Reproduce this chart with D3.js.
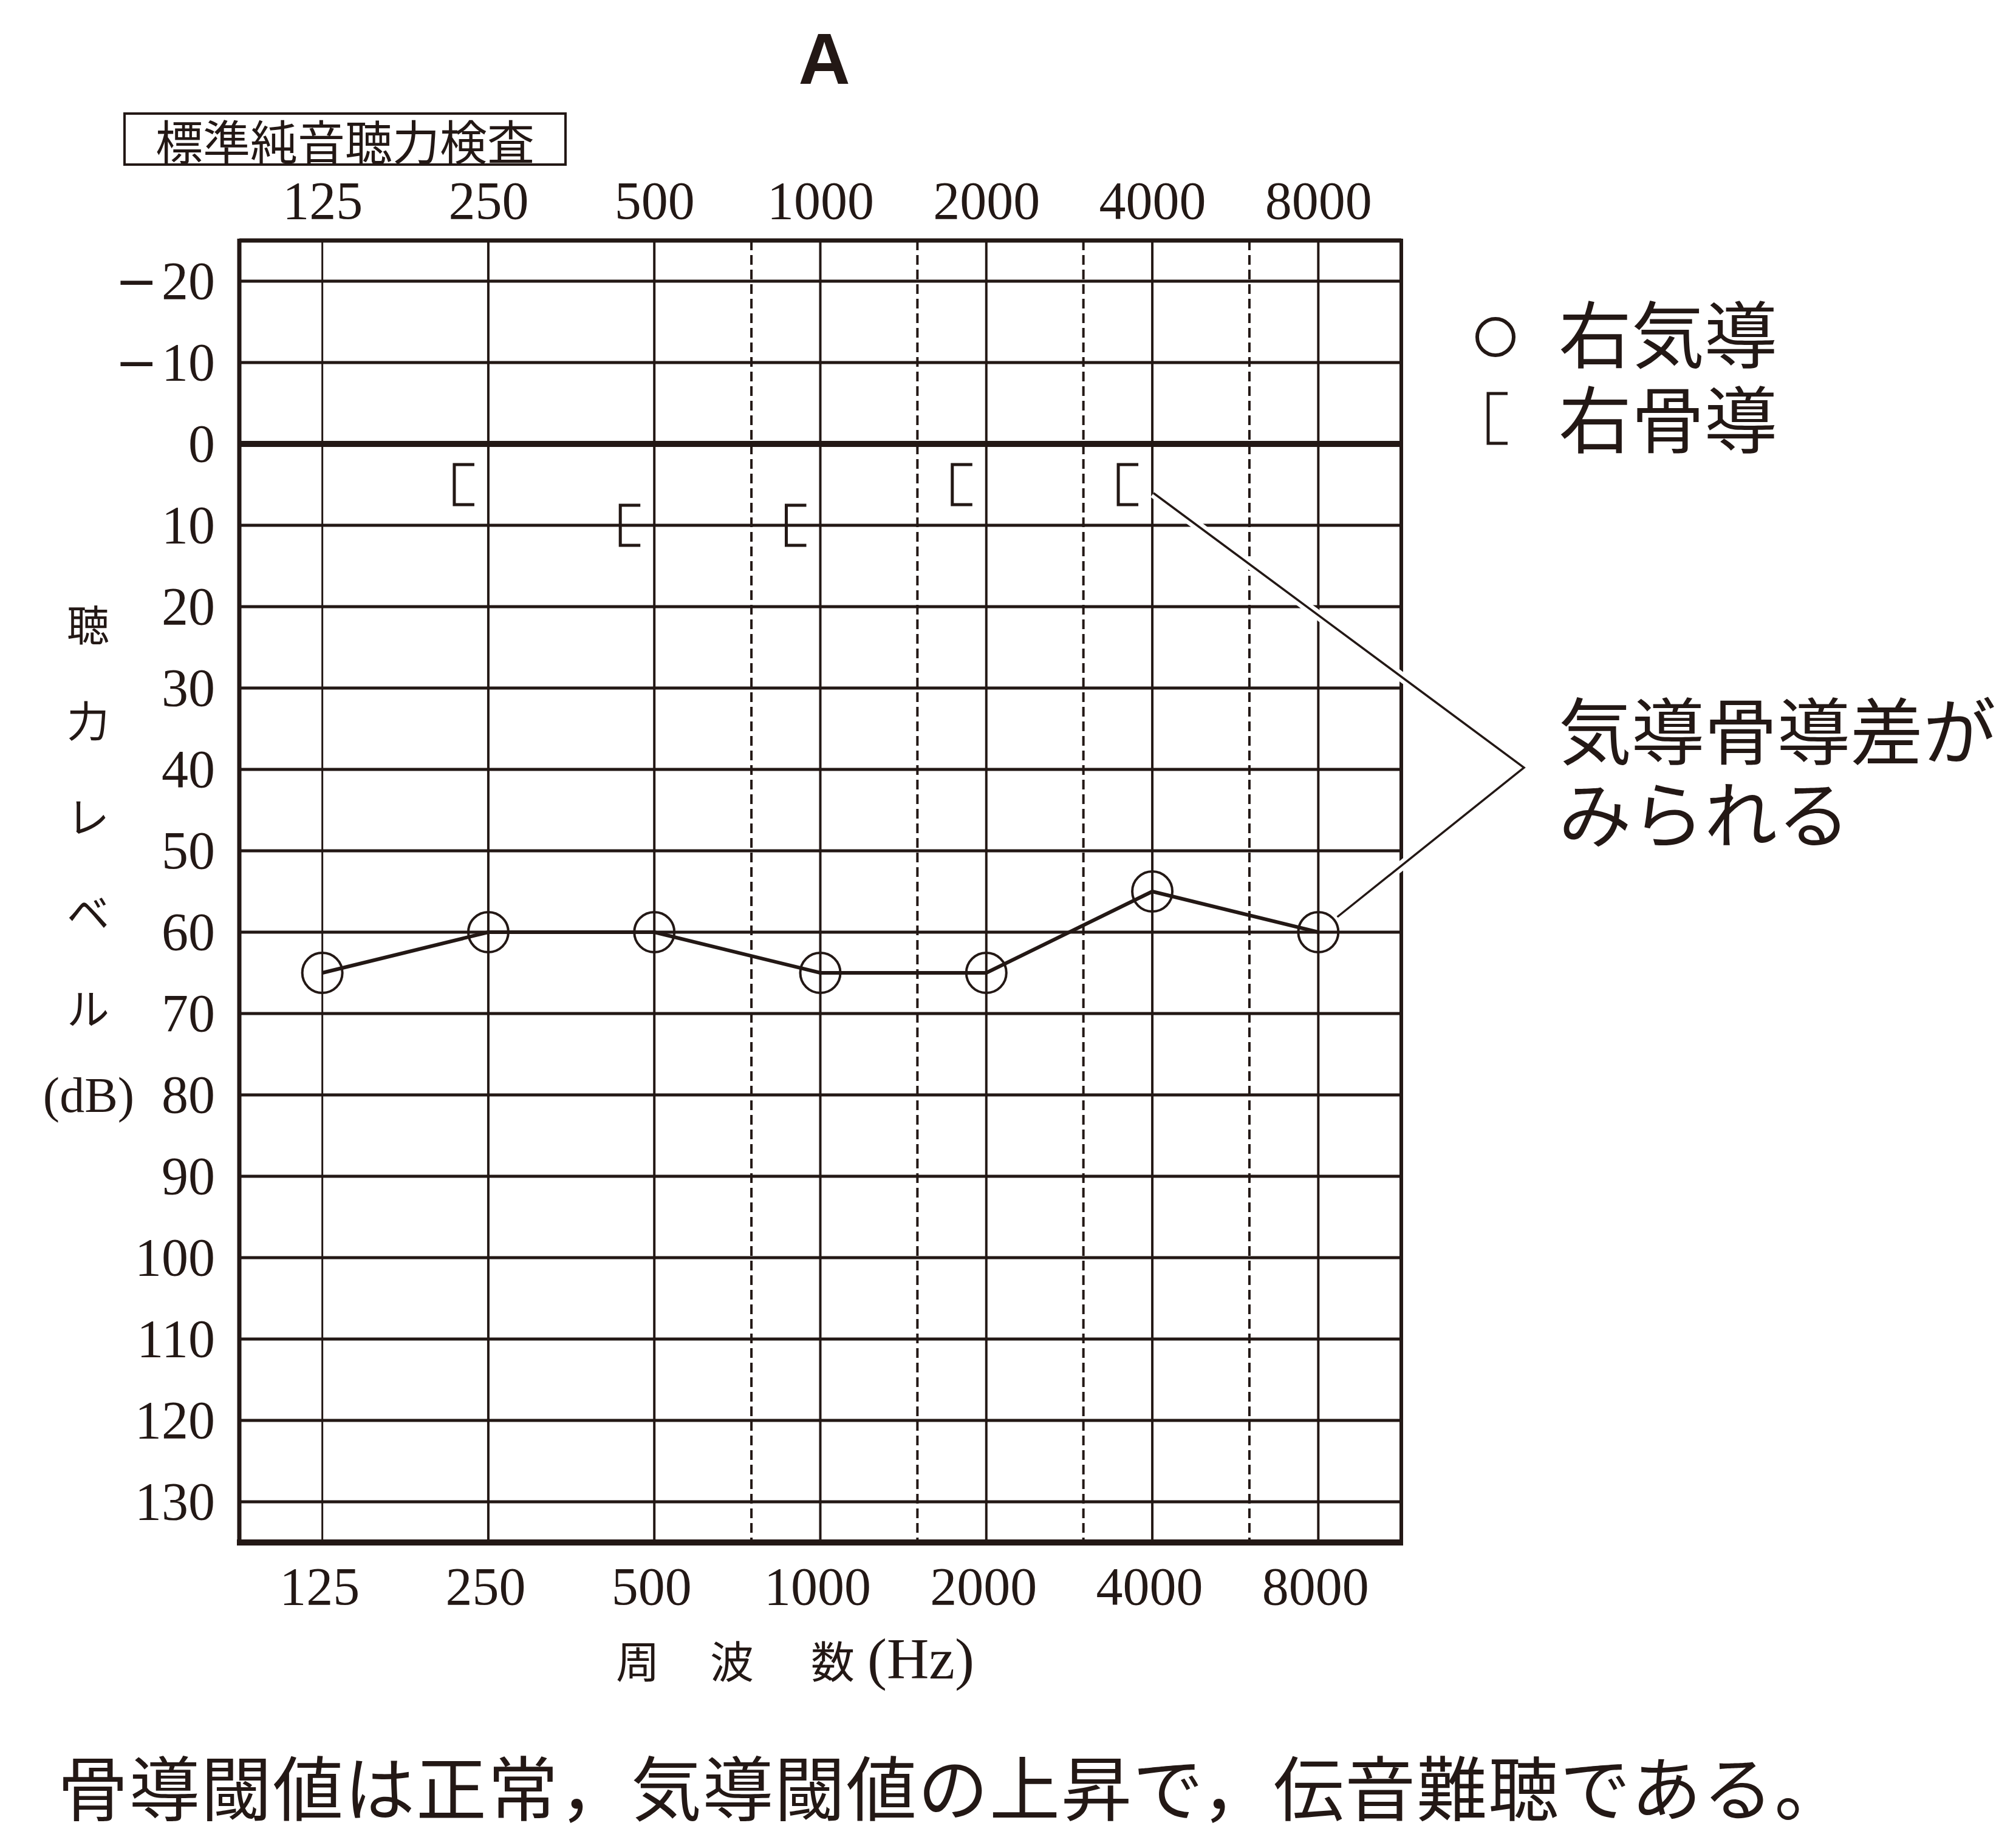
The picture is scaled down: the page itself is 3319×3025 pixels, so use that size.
<!DOCTYPE html>
<html lang="ja">
<head>
<meta charset="UTF-8"/>
<title>標準純音聴力検査 A</title>
<script src="https://cdn.jsdelivr.net/npm/d3@7"></script>
<style>
    html, body { margin: 0; background: #fff; }
    svg { display: block; }
    .num { font-family: "Liberation Serif", "DejaVu Serif", serif; }
    .jp { font-family: "Noto Sans CJK JP", "Noto Sans", sans-serif; }
</style>
</head>
<body>
<div id="container"></div>
<script>
    // audiogram data
    const freqs = [125, 250, 500, 1000, 2000, 4000, 8000]
    const midFreqs = [750, 1500, 3000, 6000]
    const dbTicks = [-20, -10, 0, 10, 20, 30, 40, 50, 60, 70, 80, 90, 100, 110, 120, 130]
    const airFreqs = [125, 250, 500, 1000, 2000, 4000, 8000]
    const airDb = [65, 60, 60, 65, 65, 55, 60]
    const boneFreqs = [250, 500, 1000, 2000, 4000]
    const boneDb = [5, 10, 10, 5, 5]
    const yTitleChars = ['聴', '力', 'レ', 'ベ', 'ル']
    const legendLabels = ['右気導', '右骨導']
    const noteLines = ['気導骨導差が', 'みられる']

    const ink = '#231815'
    const W = 3319, H = 3025
    const frame = {left: 394, right: 2307, top: 396, bottom: 2540}

    const x = d3.scaleLog().base(2)
        .domain([125 / Math.SQRT2, 8000 * Math.SQRT2])
        .range([frame.left, frame.right])
    const y = d3.scaleLinear()
        .domain([-25, 135])
        .range([frame.top, frame.bottom])

    const svg = d3.select('#container').append('svg')
        .attr('width', W).attr('height', H)
        .attr('viewBox', `0 0 ${W} ${H}`)

    svg.append('rect').attr('width', W).attr('height', H).attr('fill', '#fff')

    // title "A"
    svg.append('text')
        .attr('x', 1357).attr('y', 138)
        .attr('text-anchor', 'middle')
        .style('font-family', '"Liberation Sans", Arial, sans-serif')
        .style('font-weight', 'bold')
        .style('font-size', '118px')
        .attr('fill', ink)
        .text('A')

    // boxed heading
    svg.append('rect')
        .attr('x', 205).attr('y', 187).attr('width', 726).attr('height', 84)
        .attr('fill', 'none').attr('stroke', ink).attr('stroke-width', 4)
    svg.append('text')
        .attr('class', 'jp')
        .attr('x', 568).attr('y', 230)
        .attr('text-anchor', 'middle')
        .attr('dominant-baseline', 'central')
        .style('font-size', '78px')
        .attr('fill', ink)
        .text('標準純音聴力検査')

    const grid = svg.append('g')

    // horizontal grid lines
    grid.selectAll('line.h')
        .data(dbTicks)
        .join('line')
        .attr('class', 'h')
        .attr('x1', frame.left).attr('x2', frame.right)
        .attr('y1', d => y(d)).attr('y2', d => y(d))
        .attr('stroke', ink)
        .attr('stroke-width', d => d === 0 ? 10 : 5)

    // vertical grid lines
    grid.selectAll('line.v')
        .data(freqs)
        .join('line')
        .attr('class', 'v')
        .attr('x1', d => x(d)).attr('x2', d => x(d))
        .attr('y1', frame.top).attr('y2', frame.bottom)
        .attr('stroke', ink)
        .attr('stroke-width', d => d === 125 ? 3 : 4)

    grid.selectAll('line.mid')
        .data(midFreqs)
        .join('line')
        .attr('class', 'mid')
        .attr('x1', d => x(d)).attr('x2', d => x(d))
        .attr('y1', frame.top).attr('y2', frame.bottom)
        .attr('stroke', ink)
        .attr('stroke-width', 4)
        .attr('stroke-dasharray', '16 8')

    // frame
    grid.append('line').attr('x1', frame.left).attr('x2', frame.right)
        .attr('y1', frame.top).attr('y2', frame.top)
        .attr('stroke', ink).attr('stroke-width', 7)
    grid.append('line').attr('x1', frame.left - 4).attr('x2', frame.right + 3)
        .attr('y1', frame.bottom).attr('y2', frame.bottom)
        .attr('stroke', ink).attr('stroke-width', 10)
    grid.append('line').attr('x1', frame.left).attr('x2', frame.left)
        .attr('y1', frame.top - 3).attr('y2', frame.bottom)
        .attr('stroke', ink).attr('stroke-width', 7)
    grid.append('line').attr('x1', frame.right).attr('x2', frame.right)
        .attr('y1', frame.top - 3).attr('y2', frame.bottom)
        .attr('stroke', ink).attr('stroke-width', 6)

    // axes (labels only)
    function styleAxis(g) {
        g.select('.domain').remove()
        g.selectAll('.tick line').remove()
        g.selectAll('text')
            .attr('class', 'num')
            .style('font-size', '88px')
            .attr('fill', ink)
    }

    svg.append('g')
        .attr('transform', `translate(0,${frame.top})`)
        .call(d3.axisTop(x).tickValues(freqs).tickFormat(d3.format('d')).tickSize(0).tickPadding(36))
        .call(styleAxis)

    svg.append('g')
        .attr('transform', `translate(0,${frame.bottom})`)
        .call(d3.axisBottom(x).tickValues(freqs).tickFormat(d3.format('d')).tickSize(0).tickPadding(40))
        .call(styleAxis)
        .selectAll('text').attr('dx', -5)

    const yAxis = svg.append('g')
        .attr('transform', `translate(${frame.left},0)`)
        .call(d3.axisLeft(y).tickValues(dbTicks).tickFormat(d => Math.abs(d)).tickSize(0).tickPadding(40))
        .call(styleAxis)

    // negative labels get a long minus sign in front
    yAxis.selectAll('.tick text')
        .filter(d => d < 0)
        .each(function (d) {
            const t = d3.select(this).text('')
            t.append('tspan')
                .style('font-family', '"DejaVu Serif", serif')
                .style('font-size', '84px')
                .text('−')
            t.append('tspan').attr('dx', 6).text(Math.abs(d))
        })

    // y axis title
    svg.append('g').selectAll('text')
        .data(yTitleChars)
        .join('text')
        .attr('class', 'jp')
        .attr('x', 145)
        .attr('y', (d, i) => 1025 + i * 158)
        .attr('text-anchor', 'middle')
        .attr('dominant-baseline', 'central')
        .style('font-size', '70px')
        .attr('fill', ink)
        .text(d => d)
    svg.append('text')
        .attr('class', 'num')
        .attr('x', 146).attr('y', y(80))
        .attr('text-anchor', 'middle')
        .attr('dominant-baseline', 'central')
        .style('font-size', '82px')
        .attr('fill', ink)
        .text('(dB)')

    // x axis title
    const xTitle = svg.append('g')
    ;[['周', 1050], ['波', 1205], ['数', 1371]].forEach(([t, cx]) => {
        xTitle.append('text')
            .attr('class', 'jp')
            .attr('x', cx).attr('y', 2731)
            .attr('text-anchor', 'middle')
            .attr('dominant-baseline', 'central')
            .style('font-size', '72px')
            .attr('fill', ink)
            .text(t)
    })
    xTitle.append('text')
        .attr('class', 'num')
        .attr('x', 1428).attr('y', 2731)
        .attr('dominant-baseline', 'central')
        .style('font-size', '96px')
        .attr('fill', ink)
        .text('(Hz)')

    // air conduction line + circles
    const air = airFreqs.map((f, i) => ({f, db: airDb[i]}))
    svg.append('path')
        .datum(air)
        .attr('d', d3.line().x(d => x(d.f)).y(d => y(d.db)))
        .attr('fill', 'none')
        .attr('stroke', ink)
        .attr('stroke-width', 6)
    svg.append('g').selectAll('circle')
        .data(air)
        .join('circle')
        .attr('cx', d => x(d.f)).attr('cy', d => y(d.db))
        .attr('r', 33)
        .attr('fill', 'none')
        .attr('stroke', ink)
        .attr('stroke-width', 4)

    // bone conduction brackets
    const bracket = (cx, cy) => `M${cx - 23},${cy - 33}H${cx - 56}V${cy + 33}H${cx - 23}`
    const bone = boneFreqs.map((f, i) => ({f, db: boneDb[i]}))
    svg.append('g').selectAll('path')
        .data(bone)
        .join('path')
        .attr('d', d => bracket(x(d.f), y(d.db)))
        .attr('fill', 'none')
        .attr('stroke', ink)
        .attr('stroke-width', 5)

    // legend
    const legend = svg.append('g')
    legend.append('circle')
        .attr('cx', 2462).attr('cy', 555).attr('r', 30)
        .attr('fill', 'none').attr('stroke', ink).attr('stroke-width', 6)
    legend.append('path')
        .attr('d', 'M2482,648H2450V730H2482')
        .attr('fill', 'none').attr('stroke', ink).attr('stroke-width', 5)
    legend.selectAll('text')
        .data(legendLabels)
        .join('text')
        .attr('class', 'jp')
        .attr('x', 2566)
        .attr('y', (d, i) => 545 + i * 140)
        .attr('dominant-baseline', 'central')
        .style('font-size', '120px')
        .attr('fill', ink)
        .text(d => d)

    // annotation
    const vertex = [2509, 1264]
    const start = [x(4000) + 2, y(5) + 14]
    const c8 = [x(8000), y(60)]
    const dx = vertex[0] - c8[0], dy = vertex[1] - c8[1]
    const len = Math.hypot(dx, dy)
    const end = [c8[0] + dx / len * 40, c8[1] + dy / len * 40]
    const pts = [start, vertex, end]
    svg.append('path')
        .attr('d', d3.line()(pts))
        .attr('fill', 'none').attr('stroke', '#fff').attr('stroke-width', 16)
    svg.append('path')
        .attr('d', d3.line()(pts))
        .attr('fill', 'none').attr('stroke', ink).attr('stroke-width', 3.5)
    svg.append('g').selectAll('text')
        .data(noteLines)
        .join('text')
        .attr('class', 'jp')
        .attr('x', 2566)
        .attr('y', (d, i) => 1198 + i * 137)
        .attr('dominant-baseline', 'central')
        .style('font-size', '120px')
        .attr('fill', ink)
        .text(d => d)

    // caption
    svg.append('text')
        .attr('class', 'jp')
        .attr('x', 95).attr('y', 2938)
        .attr('dominant-baseline', 'central')
        .style('font-size', '116px')
        .style('letter-spacing', '2px')
        .attr('fill', ink)
        .text('骨導閾値は正常，気導閾値の上昇で，伝音難聴である。')
</script>
</body>
</html>
